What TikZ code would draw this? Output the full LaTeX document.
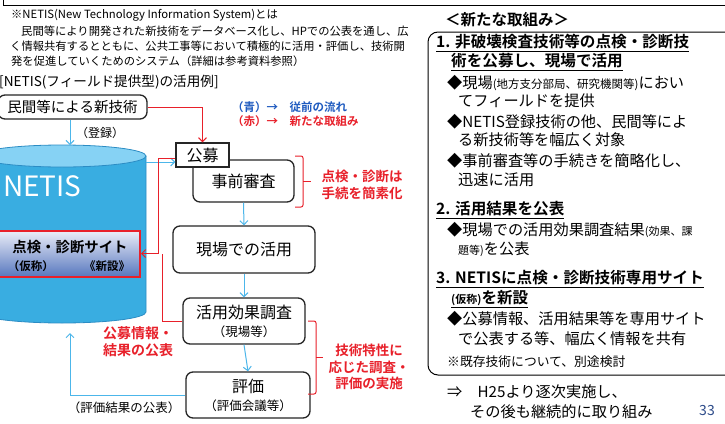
\documentclass[tikz,border=0pt]{standalone}
\usepackage{fontspec}
\setmainfont{Noto Sans CJK JP}[BoldFont={Noto Sans CJK JP Bold}]
\usetikzlibrary{arrows.meta}
\definecolor{lblue}{HTML}{4CB6EA}
\definecolor{rred}{HTML}{E8202A}
\definecolor{tblue}{HTML}{1F5BC0}
\definecolor{cylbody}{HTML}{39ADE1}
\definecolor{cyltop}{HTML}{86D2F4}
\definecolor{cyledge}{HTML}{2B8CC4}
\definecolor{pagenum}{HTML}{2E4C8A}
\definecolor{sitetop}{HTML}{ECEEF8}
\definecolor{sitebot}{HTML}{5878BF}
\newcommand\fsz[2]{\fontsize{#1}{#2}\selectfont}
\begin{document}
\begin{tikzpicture}[x=1pt,y=-1pt,
  box/.style={draw=black!85,line width=1.3pt,rounded corners=7pt,fill=white,inner sep=0pt,align=center},
  bl/.style={draw=lblue,line width=1pt,-{Straight Barb[length=4pt,width=8pt]}},
  rl/.style={draw=rred,line width=1pt,-{Straight Barb[length=4pt,width=8pt]}},
  rn/.style={draw=rred,line width=1pt},
  txt/.style={inner sep=0pt,anchor=west},
  rtxt/.style={inner sep=0pt,text=rred,font=\bfseries\fsz{13.5}{16.5},align=center},
  body/.style={inner sep=0pt,anchor=west,font=\fsz{15.2}{18}},
  head/.style={inner sep=0pt,anchor=west,font=\bfseries\fsz{15.6}{18}},
]
\useasboundingbox (0,0) rectangle (725,423);
\fill[white] (0,0) rectangle (725,423);

% top frame
\draw[line width=0.8pt] (3,-10) -- (3,5) -- (740,5);

% intro text
\node[txt,font=\fsz{11.3}{14}] (i1) at (11,15) {※NETIS(New Technology Information System)とは};
\node[txt,font=\fsz{11.3}{14}] (i2) at (21,31) {民間等により開発された新技術をデータベース化し、HPでの公表を通し、広};
\node[txt,font=\fsz{11.3}{14}] (i3) at (10,46) {く情報共有するとともに、公共工事等において積極的に活用・評価し、技術開};
\node[txt,font=\fsz{11.3}{14}] (i4) at (11,61) {発を促進していくためのシステム（詳細は参考資料参照）};
\node[txt,font=\fsz{13.6}{15}] (ex) at (-1,82) {[NETIS(フィールド提供型)の活用例]};

% cylinder
\fill[cylbody] (-22,156) -- (-22,312) arc[start angle=180,end angle=0,x radius=84,y radius=11] -- (146,156) -- cycle;
\draw[cyledge,line width=0.8pt] (146,156) -- (146,312) arc[start angle=0,end angle=180,x radius=84,y radius=11];
\filldraw[fill=cyltop,draw=cyledge,line width=0.8pt] (62,156) ellipse[x radius=84,y radius=11];
\coordinate (cyltop) at (70,145);
\coordinate (cylbot) at (70,333);
\coordinate (cylR) at (146,162);
\node[txt,text=white,font=\fsz{28}{30}] (netis) at (3,186) {NETIS};

% site box
\node[draw=rred,line width=2pt,top color=sitetop,bottom color=sitebot,minimum width=150pt,minimum height=46pt,inner sep=0pt] (site) at (65,253.5) {};
\node[inner sep=0pt,font=\bfseries\fsz{14.4}{16}] (site1) at (70,247) {点検・診断サイト};
\node[inner sep=0pt,font=\bfseries\fsz{11.5}{13}] (site2) at (31,266) {（仮称）};
\node[inner sep=0pt,font=\bfseries\fsz{11.5}{13}] (site3) at (107,266) {《新設》};

% flow boxes
\node[box,minimum width=149pt,minimum height=24pt,font=\fsz{14.5}{16}] (newtech) at (72.5,107) {民間等による新技術};
\node[box,minimum width=101pt,minimum height=42pt,font=\fsz{16}{18}] (jizen) at (243.5,181) {\raisebox{-4pt}{事前審査}};
\node[draw=black!85,line width=1.3pt,fill=white,minimum width=53pt,minimum height=24pt,inner sep=0pt,font=\fsz{16}{18}] (koubo) at (202.5,155) {公募};
\node[box,minimum width=142pt,minimum height=47pt,font=\fsz{16}{18}] (genba) at (244,249.5) {現場での活用};
\node[box,minimum width=122pt,minimum height=46pt,font=\fsz{16}{19}] (katsu) at (244,321) {活用効果調査\\[-1pt]{\fsz{12.5}{15}（現場等）}};
\node[box,minimum width=124pt,minimum height=46pt,font=\fsz{16}{19}] (hyoka) at (248,395) {評価\\[-1pt]{\fsz{12.5}{15}（評価会議等）}};

% legend
\node[txt,text=tblue,font=\bfseries\fsz{11.5}{13}] (lg1) at (232,107) {（青）→　従前の流れ};
\node[txt,text=rred,font=\bfseries\fsz{11.5}{13}] (lg2) at (232,121) {（赤）→　新たな取組み};

% blue connectors
\draw[bl] (newtech.south -| cyltop) -- (cyltop);
\node[inner sep=0pt,font=\fsz{12}{14}] (toroku) at (100,133) {（登録）};
\draw[bl] (cylR) -- (koubo.west |- cylR);
\draw[bl] (jizen.south) -- (genba.north);
\draw[bl] (genba.south) -- (katsu.north);
\draw[bl] (katsu.south) -- (hyoka.north);
\draw[bl] (hyoka.west) -| (cylbot);
\node[inner sep=0pt,font=\fsz{12.5}{14}] (hyokapub) at (124,408) {（評価結果の公表）};

% red connectors
\draw[rl] (newtech.east) -| (koubo.north);
\coordinate (rjoin) at (162,253.5);
\draw[rl] ([yshift=-3pt]koubo.west) -- ++(-17,0) |- (site.east);
\draw[rn] (katsu.west) -| (rjoin);
\node[inner sep=0pt,text=rred,font=\bfseries\fsz{14}{17},align=left,anchor=west] (pubinfo) at (103,341.5) {公募情報・\\結果の公表};

% braces
\draw[rn,rounded corners=2pt] (295,156) -- (303,156) -- (303,207) -- (295,207);
\draw[rn] (303,181.5) -- (311,181.5);
\node[rtxt] (simp) at (362,185) {点検・診断は\\手続を簡素化};
\draw[rn,rounded corners=2pt] (308,321) -- (316,321) -- (316,394) -- (308,394);
\draw[rn] (316,357) -- (323,357);
\node[rtxt] (tech) at (369,367) {技術特性に\\応じた調査・\\評価の実施};

% right panel
\node[txt,font=\bfseries\fsz{15.5}{18}] (rt) at (445,20) {＜新たな取組み＞};
\draw[line width=1pt,rounded corners=10pt] (740,32) -- (428,32) -- (428,375) -- (740,375);
\node[head] (h1a) at (436,43) {\underline{1. 非破壊検査技術等の点検・診断技}};
\node[head] (h1b) at (451,62) {\underline{術を公募し、現場で活用}};
\node[body] (b1a) at (447,83) {◆現場{\fsz{11.5}{12}(地方支分部局、研究機関等)}におい};
\node[body] (b1b) at (458,101) {てフィールドを提供};
\node[body] (b2a) at (447,122) {◆NETIS登録技術の他、民間等によ};
\node[body] (b2b) at (458,140) {る新技術等を幅広く対象};
\node[body] (b3a) at (447,161) {◆事前審査等の手続きを簡略化し、};
\node[body] (b3b) at (458,180) {迅速に活用};
\node[head] (h2) at (436,210) {\underline{2. 活用結果を公表}};
\node[body] (b4a) at (447,230) {◆現場での活用効果調査結果{\fsz{11}{12}(効果、課}};
\node[body] (b4b) at (458,249) {{\fsz{11}{12}題等)}を公表};
\node[head] (h3a) at (436,279) {\underline{3. NETISに点検・診断技術専用サイト}};
\node[head] (h3b) at (451,299) {\underline{{\fsz{11}{12}(仮称)}を新設}};
\node[body] (b5a) at (447,319) {◆公募情報、活用結果等を専用サイト};
\node[body] (b5b) at (458,339) {で公表する等、幅広く情報を共有};
\node[txt,font=\fsz{12.8}{15}] (note) at (447,362) {※既存技術について、別途検討};
\node[body] (f1) at (447,392) {⇒　H25より逐次実施し、};
\node[body] (f2) at (470,412) {その後も継続的に取り組み};
\node[inner sep=0pt,text=pagenum,font=\fsz{14}{16}] (pg) at (707,411) {33};
\end{tikzpicture}
\end{document}
